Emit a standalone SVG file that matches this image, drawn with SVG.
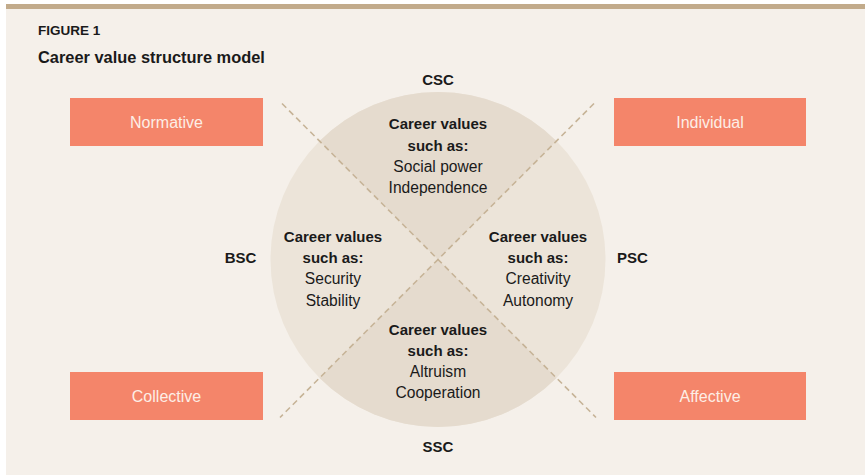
<svg xmlns="http://www.w3.org/2000/svg" width="865" height="475" viewBox="0 0 865 475">
<style>
.t{font-family:"Liberation Sans",Arial,sans-serif;fill:#1a1a1a;text-anchor:middle}
.b{font-weight:bold;font-size:15px}
.r{font-size:15.6px}
.box rect{fill:#f4856a}
.box text{font-family:"Liberation Sans",Arial,sans-serif;font-size:16px;fill:#fdeee6;text-anchor:middle}
.dash{stroke:#c6b397;stroke-width:1.6;stroke-dasharray:6 4;fill:none}
</style>
<rect x="0" y="0" width="865" height="475" fill="#ffffff"/>
<rect x="6" y="9" width="859" height="466" fill="#f5f0ea"/>
<rect x="6" y="4" width="859" height="5" fill="#c2ab8b"/>
<text x="38" y="35" font-family="Liberation Sans,Arial,sans-serif" font-weight="bold" font-size="13.5" fill="#1a1a1a">FIGURE 1</text>
<text x="38" y="63" font-family="Liberation Sans,Arial,sans-serif" font-weight="bold" font-size="16.4" fill="#1a1a1a">Career value structure model</text>
<g id="circle">
<circle cx="438" cy="259.5" r="167.5" fill="#ece4d9"/>
<path d="M438 259.5 L319.6 141.1 A167.5 167.5 0 0 1 556.4 141.1 Z" fill="#e5dbce"/>
<path d="M438 259.5 L556.4 377.9 A167.5 167.5 0 0 1 319.6 377.9 Z" fill="#e5dbce"/>
</g>
<g id="connectors">
<line class="dash" x1="282" y1="103.5" x2="596" y2="417.5"/>
<line class="dash" x1="594" y1="103.5" x2="280" y2="417.5"/>
</g>
<g id="normative" class="box"><rect x="70" y="98" width="193" height="48"/><text x="166.5" y="128">Normative</text></g>
<g id="individual" class="box"><rect x="614" y="98" width="192" height="48"/><text x="710" y="128">Individual</text></g>
<g id="collective" class="box"><rect x="70" y="372" width="193" height="48"/><text x="166.5" y="402">Collective</text></g>
<g id="affective" class="box"><rect x="614" y="372" width="192" height="48"/><text x="710" y="402">Affective</text></g>
<g id="labels" class="t b">
<text x="438" y="85">CSC</text>
<text x="438" y="452">SSC</text>
<text x="240.5" y="263">BSC</text>
<text x="632.5" y="263">PSC</text>
</g>
<g id="csc-values" class="t">
<text class="b" x="438" y="129">Career values</text>
<text class="b" x="438" y="151">such as:</text>
<text class="r" x="438" y="172">Social power</text>
<text class="r" x="438" y="193">Independence</text>
</g>
<g id="bsc-values" class="t">
<text class="b" x="333" y="242">Career values</text>
<text class="b" x="333" y="263">such as:</text>
<text class="r" x="333" y="284">Security</text>
<text class="r" x="333" y="306">Stability</text>
</g>
<g id="psc-values" class="t">
<text class="b" x="538" y="242">Career values</text>
<text class="b" x="538" y="263">such as:</text>
<text class="r" x="538" y="284">Creativity</text>
<text class="r" x="538" y="306">Autonomy</text>
</g>
<g id="ssc-values" class="t">
<text class="b" x="438" y="335">Career values</text>
<text class="b" x="438" y="356">such as:</text>
<text class="r" x="438" y="377">Altruism</text>
<text class="r" x="438" y="398">Cooperation</text>
</g>
</svg>
